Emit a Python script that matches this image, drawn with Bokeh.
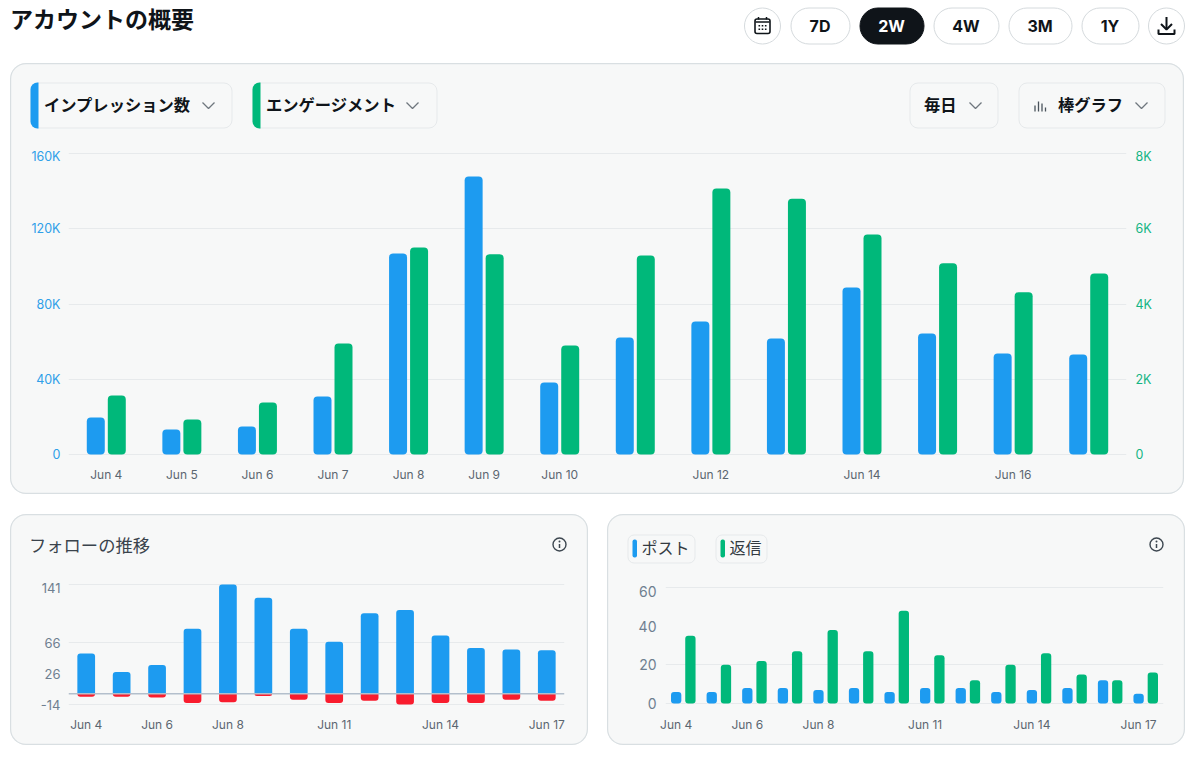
from bokeh.plotting import figure
from bokeh.models import Range1d, LinearAxis, FixedTicker, Span, ColumnDataSource, Column, Row
from bokeh.transform import dodge
from bokeh.embed import file_html
from bokeh.resources import INLINE
from bokeh.core.properties import value

# ---------- data ----------
dates = ["Jun 4", "Jun 5", "Jun 6", "Jun 7", "Jun 8", "Jun 9", "Jun 10",
         "Jun 11", "Jun 12", "Jun 13", "Jun 14", "Jun 15", "Jun 16", "Jun 17"]
impressions = [19700, 13300, 14900, 30800, 106900, 147800, 38300,
               62200, 70700, 61700, 88800, 64300, 53700, 53200]
engagements = [1570, 930, 1380, 2950, 5500, 5320, 2900,
               5290, 7070, 6800, 5850, 5080, 4310, 4810]
follows_gain = [52, 28, 37, 84, 141, 124, 84, 67, 104, 108, 75, 59, 57, 56]
follows_loss = [-4, -4, -5, -12, -11, -3, -8, -12, -9, -14, -12, -12, -8, -9]
posts = [6, 6, 8, 8, 7, 8, 6, 8, 8, 6, 7, 8, 12, 5]
replies = [35, 20, 22, 27, 38, 27, 48, 25, 12, 20, 26, 15, 12, 16]

main_x_ticks = ["Jun 4", "Jun 5", "Jun 6", "Jun 7", "Jun 8", "Jun 9", "Jun 10", "Jun 12", "Jun 14", "Jun 16"]
small_x_ticks = ["Jun 4", "Jun 6", "Jun 8", "Jun 11", "Jun 14", "Jun 17"]
imp_ticks = {0: "0", 40000: "40K", 80000: "80K", 120000: "120K", 160000: "160K"}
eng_ticks = {0: "0", 2000: "2K", 4000: "4K", 6000: "6K", 8000: "8K"}
follow_ticks = {-14: "-14", 26: "26", 66: "66", 141: "141"}
follow_grid = [-14, 66, 141]
post_ticks = {0: "0", 20: "20", 40: "40", 60: "60"}
post_grid = [0, 20, 60]
periods = ["7D", "2W", "4W", "3M", "1Y"]

# ---------- style ----------
BLUE, GREEN, RED = "#1d9bf0", "#00b87a", "#f91c2e"
CJK = "Noto Sans CJK JP"
LATIN = "Inter"
CARD, EDGE, CHIP_EDGE = "#f7f8f8", "#d9dfe2", "#e6e9eb"
GRID = "#e7eaec"
INK = "#0f1419"
CHEV = "#6f777e"
idx = list(range(len(dates)))
CARD_CSS = {"background": CARD, "border-radius": "16px", "box-shadow": f"inset 0 0 0 1.2px {EDGE}"}


def chrome_fig(x0, x1, y0, y1):
    """Figure whose data space is page pixels: used only for buttons, chips and icons."""
    return figure(width=x1 - x0, height=y1 - y0, output_backend="svg", toolbar_location=None,
                  x_range=Range1d(x0, x1), y_range=Range1d(y1, y0), x_axis_type=None, y_axis_type=None,
                  min_border=0, background_fill_color=None, border_fill_color=None,
                  outline_line_color=None, frame_align=False, margin=0)


def chart_fig(w, h, l, r, t, b, y0, y1):
    return figure(width=w, height=h, output_backend="svg", toolbar_location=None,
                  x_range=Range1d(-0.5, 13.5), y_range=Range1d(y0, y1),
                  min_border_left=l, min_border_right=r, min_border_top=t, min_border_bottom=b,
                  background_fill_color=None, border_fill_color=None, outline_line_color=None,
                  frame_align=False, margin=0)


def style_axis(ax, color, size, standoff):
    ax.axis_line_color = None
    ax.major_tick_line_color = None
    ax.minor_tick_line_color = None
    ax.major_label_text_color = color
    ax.major_label_text_font = LATIN
    ax.major_label_text_font_size = size
    ax.major_label_standoff = standoff


def style_y_axis(ax, labels, top_nudge, color, size, standoff):
    """The topmost label sits a few px under its gridline, as in the reference."""
    style_axis(ax, color, size, standoff)
    ax.major_tick_out = 0
    top = max(labels)
    placed = {(k - top_nudge if k == top else k): v for k, v in labels.items()}
    ax.ticker = FixedTicker(ticks=list(placed))
    ax.major_label_overrides = placed


def x_axis(p, labels, standoff, shift=0.0, size="12px", color="#5b6670"):
    ax = p.xaxis[0]
    ticks = {dates.index(d) + shift: d for d in labels}
    ax.ticker = FixedTicker(ticks=list(ticks))
    ax.major_label_overrides = ticks
    style_axis(ax, color, size, standoff)
    p.xgrid.visible = False


def y_grid(p, ticks):
    g = p.ygrid[0]
    g.ticker = FixedTicker(ticks=ticks)
    g.grid_line_color = GRID
    g.grid_line_width = 1


def txt(p, x, y, s, size, color=INK, weight="normal", font=CJK, align="left"):
    p.text(x=[x], y=[y], text=[s], text_font=value(font), text_font_style=weight, text_font_size=size,
           text_color=color, text_align=align, text_baseline="middle")


def chevron(p, x, y):
    p.line([x - 6, x, x + 6], [y - 3, y + 3, y - 3], line_color=CHEV, line_width=1.3)


def info_icon(p, cx, cy):
    c = "#3d4750"
    p.scatter([cx], [cy], size=13, marker="circle", fill_color=None, line_color=c, line_width=1.4)
    p.segment([cx], [cy - 0.5], [cx], [cy + 3.5], line_color=c, line_width=1.5)
    p.scatter([cx], [cy - 3], size=2, marker="circle", fill_color=c, line_color=None)


def chip(p, l, r, t, b, radius):
    p.quad(left=l + 0.5, right=r - 0.5, top=t + 0.5, bottom=b - 0.5, border_radius=radius,
           fill_color=CARD, line_color=CHIP_EDGE, line_width=1)


# ---------- header ----------
hdr = chrome_fig(0, 1200, 0, 63)
txt(hdr, 9.5, 17, "アカウントの概要", "23px", INK, "bold")
pill_l = [790, 859, 933, 1008, 1081]
pill_r = [850, 924, 999, 1072, 1139]
active = "2W"
for lbl, l, r in zip(periods, pill_l, pill_r):
    on = lbl == active
    hdr.quad(left=l + 0.5, right=r - 0.5, top=7.5, bottom=43.5, border_radius=18,
             fill_color=INK if on else "white", line_color=INK if on else "#d5dadd", line_width=1)
    txt(hdr, (l + r) / 2 - 0.5, 25, lbl, "16px", "white" if on else INK, "bold", LATIN, "center")
for cx in (762, 1166):
    hdr.quad(left=cx - 18, right=cx + 18, top=7.5, bottom=43.5, border_radius=18,
             fill_color="white", line_color="#d5dadd")
hdr.quad(left=754.5, right=769.5, top=18.5, bottom=33, border_radius=2, fill_color=None,
         line_color=INK, line_width=1.6)
hdr.multi_line(xs=[[755, 769], [758, 758], [766, 766]], ys=[[21.5, 21.5], [16.5, 19], [16.5, 19]],
               line_color=INK, line_width=1.5)
hdr.quad(left=[758, 761.2, 764.4, 758, 761.2, 764.4], right=[759.6, 762.8, 766, 759.6, 762.8, 766],
         top=[24.5, 24.5, 24.5, 28, 28, 28], bottom=[26.1, 26.1, 26.1, 29.6, 29.6, 29.6],
         fill_color=INK, line_color=None)
hdr.multi_line(xs=[[1166, 1166], [1160.5, 1166, 1171.5], [1158, 1158, 1174, 1174]],
               ys=[[16.5, 28.5], [23.5, 29, 23.5], [29, 33.5, 33.5, 29]],
               line_color=INK, line_width=2)

# ---------- main card ----------
mc = chrome_fig(10, 1184, 63, 143)
for (l, r, stripe, label, tx, chev) in [
    (30, 232, BLUE, "インプレッション数", 43.5, 208),
    (252, 437, GREEN, "エンゲージメント", 265.5, 412),
    (909, 998, None, "毎日", 923.5, 975),
    (1018, 1165, None, "棒グラフ", 1057.5, 1141),
]:
    chip(mc, l, r, 82, 128, 8)
    if stripe:
        mc.quad(left=l, right=l + 8, top=82, bottom=128, border_radius=(7, 0, 0, 7),
                fill_color=stripe, line_color=None)
    txt(mc, tx, 103, label, "16.3px", INK, "bold")
    chevron(mc, chev, 105)
mc.segment([1034.5, 1038, 1041.5, 1045], [105, 101, 103, 107], [1034.5, 1038, 1041.5, 1045], [111, 111, 111, 111],
           line_color="#4a535b", line_width=1.3)

# 1 px of range beyond the ticks keeps edge gridlines inside the plot area
PX_IMP = 160000 / 301
PX_ENG = 8000 / 301
main = chart_fig(1174, 351, 58, 58, 8, 39, -PX_IMP, 160000 + 2 * PX_IMP)
main.extra_y_ranges = {"eng": Range1d(-PX_ENG, 8000 + 2 * PX_ENG)}
src = ColumnDataSource(dict(i=idx, impressions=impressions, engagements=engagements))
main.vbar(x=dodge("i", -0.139, range=main.x_range), top="impressions", width=0.238, source=src,
          fill_color=BLUE, line_color=None, border_radius=4)
main.vbar(x=dodge("i", 0.139, range=main.x_range), top="engagements", width=0.238, source=src,
          fill_color=GREEN, line_color=None, border_radius=4, y_range_name="eng")
x_axis(main, main_x_ticks, 5)
y_grid(main, list(imp_ticks))
style_y_axis(main.yaxis[0], imp_ticks, 3 * PX_IMP, "#2f9fe8", "12.5px", 8)
ry = LinearAxis(y_range_name="eng")
style_y_axis(ry, eng_ticks, 3 * PX_ENG, "#14b584", "12.5px", 9)
main.add_layout(ry, "right")
main_card = Column(children=[mc, main], spacing=0, styles=CARD_CSS, width=1174, height=431, margin=(0, 0, 0, 10))

# ---------- follows card ----------
lc = chrome_fig(10, 588, 514, 574)
txt(lc, 28.5, 544, "フォローの推移", "17.3px", "#3a434c")
info_icon(lc, 559, 544)
PX_F = 155 / 120
left = chart_fig(578, 171, 58, 24, 8, 40, -14 - PX_F, 141 + 2 * PX_F)
src2 = ColumnDataSource(dict(i=idx, gain=follows_gain, loss=follows_loss))
left.vbar(x="i", top="gain", width=0.5, source=src2, fill_color=BLUE, line_color=None,
          border_radius=(3, 3, 0, 0))
left.vbar(x="i", top=0, bottom="loss", width=0.5, source=src2, fill_color=RED, line_color=None,
          border_radius=(0, 0, 3, 3))
left.add_layout(Span(location=0, dimension="width", line_color="#b3bfcc", line_width=1.5))
x_axis(left, small_x_ticks, 5)
y_grid(left, follow_grid)
style_y_axis(left.yaxis[0], follow_ticks, 3.5 * PX_F, "#6f7f90", "13px", 8)
left_card = Column(children=[lc, left], spacing=0, styles=CARD_CSS, width=578, height=231, margin=(20, 0, 0, 10))

# ---------- posts / replies card ----------
rc = chrome_fig(607, 1185, 514, 577)
for l, r, c, label in [(627, 695, BLUE, "ポスト"), (715, 767, GREEN, "返信")]:
    chip(rc, l, r, 534, 563, 6)
    rc.quad(left=l + 5, right=l + 9.5, top=539, bottom=557, border_radius=2, fill_color=c, line_color=None)
    txt(rc, l + 14, 546, label, "16px", "#333a41")
info_icon(rc, 1156, 544)
PX_P = 60 / 116
right = chart_fig(578, 168, 58, 22, 8, 41, -PX_P, 60 + 2 * PX_P)
src3 = ColumnDataSource(dict(i=idx, posts=posts, replies=replies))
right.vbar(x=dodge("i", -0.2, range=right.x_range), top="posts", width=0.29, source=src3,
           fill_color=BLUE, line_color=None, border_radius=3)
right.vbar(x=dodge("i", 0.2, range=right.x_range), top="replies", width=0.29, source=src3,
           fill_color=GREEN, line_color=None, border_radius=3)
x_axis(right, small_x_ticks, 6, shift=-0.2)
y_grid(right, post_grid)
style_y_axis(right.yaxis[0], post_ticks, 3.5 * PX_P, "#6f7f90", "14px", 9)
right_card = Column(children=[rc, right], spacing=0, styles=CARD_CSS, width=578, height=231, margin=(20, 0, 0, 19))

layout = Column(children=[hdr, main_card, Row(children=[left_card, right_card], spacing=0)], spacing=0)
open("out.html", "w").write(file_html(layout, INLINE))
